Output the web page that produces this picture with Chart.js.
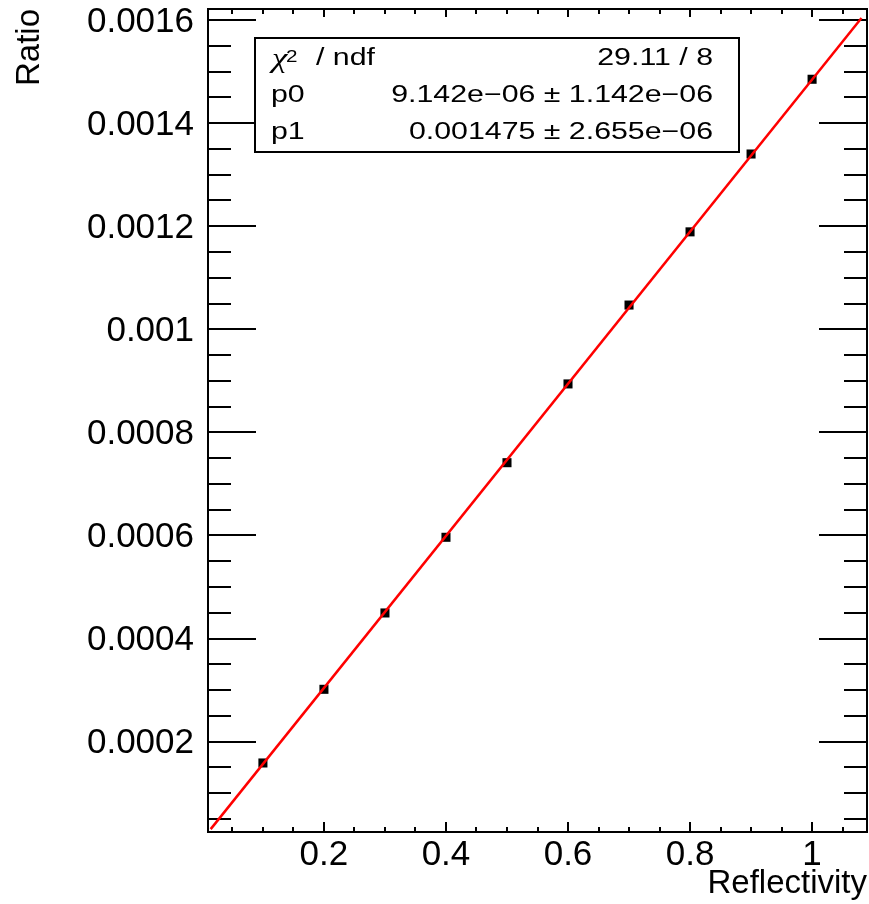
<!DOCTYPE html>
<html>
<head>
<meta charset="utf-8">
<script src="https://cdn.jsdelivr.net/npm/chart.js@4.4.0/dist/chart.umd.min.js"></script>
<style>
html,body{margin:0;padding:0;background:#fff;overflow:hidden;}
#wrap{position:relative;width:869px;height:904px;}
</style>
</head>
<body>
<div id="wrap"><canvas id="c"></canvas></div>
<script>
// ---- data ----
const reflectivity = [0.1, 0.2, 0.3, 0.4, 0.5, 0.6, 0.7, 0.8, 0.9, 1.0];
const ratio = [0.0001587, 0.0003016, 0.0004497, 0.0005965, 0.0007412, 0.000894, 0.001047, 0.001189, 0.001340, 0.001485];
// fit line end points
const fitLineX = [0.0144, 1.081];
const fitLineY = [0.0000304, 0.0016037];
// axes
const xRange = [0.01, 1.09];
const yRange = [0.0000248, 0.0016213];
const xTickValues = [0.2, 0.4, 0.6, 0.8, 1.0];
const xTickLabels = ['0.2', '0.4', '0.6', '0.8', '1'];
const yTickValues = [0.0002, 0.0004, 0.0006, 0.0008, 0.001, 0.0012, 0.0014, 0.0016];
const yTickLabels = ['0.0002', '0.0004', '0.0006', '0.0008', '0.001', '0.0012', '0.0014', '0.0016'];
const xMinorStep = 0.05;
const yMinorStep = 0.00005;
const xTitle = 'Reflectivity';
const yTitle = 'Ratio';
// stats box
const statsNames = ['\u03c7', 'p0', 'p1'];
const statsValues = ['29.11 / 8', '9.142e\u221206 \u00b1 1.142e\u221206', '0.001475 \u00b1 2.655e\u221206'];

const FONT = "'Liberation Sans', Arial, Helvetica, sans-serif";
const SERIF = "'Liberation Serif', 'Times New Roman', serif";

const framePlugin = {
  id: 'frameTicks',
  beforeDraw(chart) {
    const {ctx, width, height} = chart;
    ctx.save();
    ctx.fillStyle = '#fff';
    ctx.fillRect(0, 0, width, height);
    ctx.restore();
  },
  beforeDatasetsDraw(chart) {
    const {ctx, chartArea: a, scales: {x, y}} = chart;
    ctx.save();
    ctx.strokeStyle = '#000';
    ctx.lineWidth = 2;
    ctx.beginPath();
    const ky0 = Math.ceil(y.min / yMinorStep - 1e-6), ky1 = Math.floor(y.max / yMinorStep + 1e-6);
    for (let k = ky0; k <= ky1; k++) {
      const p = Math.round(y.getPixelForValue(k * yMinorStep));
      const len = (k % 4 === 0) ? 48 : 23;
      ctx.moveTo(a.left, p); ctx.lineTo(a.left + len, p);
      ctx.moveTo(a.right, p); ctx.lineTo(a.right - len, p);
    }
    const kx0 = Math.ceil(x.min / xMinorStep - 1e-6), kx1 = Math.floor(x.max / xMinorStep + 1e-6);
    for (let k = kx0; k <= kx1; k++) {
      const p = Math.round(x.getPixelForValue(k * xMinorStep));
      const major = (k % 4 === 0);
      ctx.moveTo(p, a.bottom); ctx.lineTo(p, a.bottom - (major ? 10 : 5));
      ctx.moveTo(p, a.top); ctx.lineTo(p, a.top + (major ? 8 : 5));
    }
    ctx.stroke();
    ctx.strokeRect(a.left, a.top, a.right - a.left, a.bottom - a.top);
    ctx.restore();
  }
};

const statsPlugin = {
  id: 'statsBox',
  afterDraw(chart) {
    const ctx = chart.ctx;
    const bx = 255, by = 38, bw = 484, bh = 114;
    const S = 1.29, fs = 23.5;
    const base = [64.5, 101.5, 138.5];
    ctx.save();
    ctx.fillStyle = '#fff';
    ctx.fillRect(bx, by, bw, bh);
    ctx.strokeStyle = '#000';
    ctx.lineWidth = 2;
    ctx.strokeRect(bx, by, bw, bh);
    ctx.fillStyle = '#000';
    ctx.textBaseline = 'alphabetic';
    const draw = (txt, x, y, font, align) => {
      ctx.save();
      ctx.translate(x, y);
      ctx.scale(S, 1);
      ctx.font = font;
      ctx.textAlign = align;
      ctx.fillText(txt, 0, 0);
      ctx.restore();
    };
    draw(statsNames[0], 272, base[0] + 2, 'italic 27px ' + SERIF, 'left');
    draw('2', 286, base[0] - 3, '16px ' + FONT, 'left');
    draw('/ ndf', 316, base[0], fs + 'px ' + FONT, 'left');
    draw(statsNames[1], 271, base[1], fs + 'px ' + FONT, 'left');
    draw(statsNames[2], 271, base[2], fs + 'px ' + FONT, 'left');
    for (let i = 0; i < 3; i++) draw(statsValues[i], 713, base[i], fs + 'px ' + FONT, 'right');
    ctx.restore();
  }
};

new Chart(document.getElementById('c'), {
  type: 'scatter',
  data: {
    datasets: [
      {
        type: 'line',
        data: fitLineX.map((v, i) => ({x: v, y: fitLineY[i]})),
        borderColor: '#ff0000',
        borderWidth: 2.5,
        pointRadius: 0,
        fill: false,
        tension: 0,
        order: 0
      },
      {
        type: 'scatter',
        data: reflectivity.map((v, i) => ({x: v, y: ratio[i]})),
        pointStyle: 'rect',
        pointRadius: 6.4,
        backgroundColor: '#000',
        borderColor: '#000',
        borderWidth: 0,
        order: 1
      }
    ]
  },
  options: {
    responsive: true,
    maintainAspectRatio: false,
    animation: false,
    devicePixelRatio: 1,
    events: [],
    layout: {autoPadding: false, padding: {left: 0, right: 2, top: 9, bottom: 0}},
    plugins: {legend: {display: false}, tooltip: {enabled: false}},
    scales: {
      x: {
        type: 'linear',
        min: xRange[0],
        max: xRange[1],
        grid: {display: false, drawTicks: false},
        border: {display: false},
        afterBuildTicks(s) { s.ticks = xTickValues.map(v => ({value: v})); },
        afterFit(s) { s.height = 72; s.paddingLeft = 0; s.paddingRight = 0; },
        ticks: {
          callback: (v, i) => xTickLabels[i],
          font: {family: FONT, size: 35},
          color: '#000',
          padding: 2,
          maxRotation: 0,
          autoSkip: false
        },
        title: {
          display: true, text: xTitle, align: 'end', color: '#000',
          font: {family: FONT, size: 33}, padding: {top: 0, bottom: 0}
        }
      },
      y: {
        type: 'linear',
        min: yRange[0],
        max: yRange[1],
        grid: {display: false, drawTicks: false},
        border: {display: false},
        afterBuildTicks(s) { s.ticks = yTickValues.map(v => ({value: v})); },
        afterFit(s) { s.width = 208; s.paddingTop = 0; s.paddingBottom = 0; },
        ticks: {
          callback: (v, i) => yTickLabels[i],
          font: {family: FONT, size: 35},
          color: '#000',
          padding: 14,
          labelOffset: 2,
          autoSkip: false
        },
        title: {
          display: true, text: yTitle, align: 'end', color: '#000',
          font: {family: FONT, size: 33}, padding: {top: 10, bottom: 0}
        }
      }
    }
  },
  plugins: [framePlugin, statsPlugin]
});
</script>
</body>
</html>
